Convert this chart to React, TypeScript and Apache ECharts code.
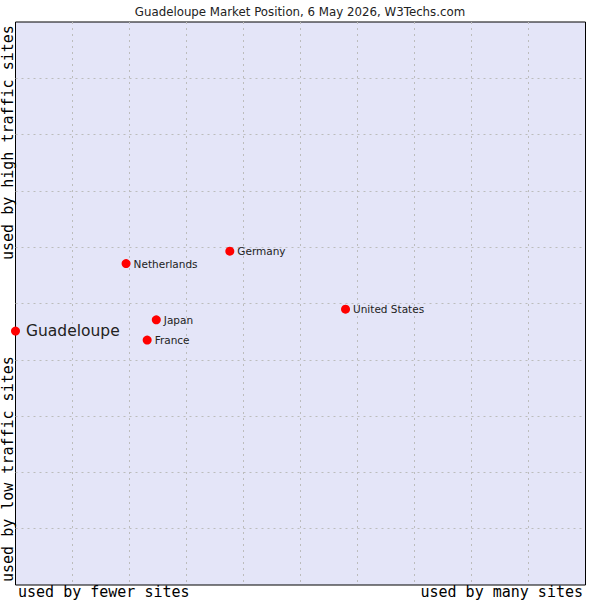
import React, { useRef, useEffect } from "react";
import * as echarts from "echarts";

const names = ["Guadeloupe", "Netherlands", "Germany", "United States", "Japan", "France"];
const xValues = [0, 1.94, 3.76, 5.79, 2.47, 2.31];
const yValues = [4.51, 5.71, 5.93, 4.9, 4.71, 4.35];
const titleText = "Guadeloupe Market Position, 6 May 2026, W3Techs.com";
const xLabels = ["used by fewer sites", "used by many sites"];
const yLabels = ["used by low traffic sites", "used by high traffic sites"];

const mono = "DejaVu Sans Mono";
const sans = "DejaVu Sans";

const App = function () {
  const chart = useRef<HTMLDivElement>(null);
  useEffect(() => {
    if (!chart.current) return;
    const myChart = echarts.init(chart.current, undefined, { renderer: "svg" });
    const data = names.map((n, i) => ({
      name: n,
      value: [xValues[i], yValues[i]],
      label:
        i === 0
          ? { fontSize: 15.5, distance: 6, color: "#222" }
          : undefined,
    }));
    // dashed grid lines, but not over the solid frame
    const gridLine = {
      show: true,
      showMinLine: false,
      showMaxLine: false,
      lineStyle: { color: "#bcbcbc", type: [2, 4], width: 1 },
    };
    const option = {
      animation: false,
      title: {
        text: titleText,
        left: "center",
        top: 1,
        textStyle: {
          fontFamily: sans,
          fontSize: 11.8,
          fontWeight: "normal",
          color: "#222",
        },
      },
      grid: {
        left: 15.5,
        right: 14.5,
        top: 22,
        bottom: 15,
        show: true,
        backgroundColor: "#e4e5f8",
        borderColor: "#000",
        borderWidth: 1,
      },
      xAxis: {
        type: "value",
        min: 0,
        max: 10,
        interval: 1,
        axisLine: { show: false },
        axisTick: { show: false },
        axisLabel: { show: false },
        splitLine: gridLine,
      },
      yAxis: {
        type: "value",
        min: 0,
        max: 10,
        interval: 1,
        axisLine: { show: false },
        axisTick: { show: false },
        axisLabel: { show: false },
        splitLine: gridLine,
      },
      graphic: [
        {
          type: "text",
          left: 18,
          top: 584,
          style: { text: xLabels[0], font: `15px "${mono}"`, fill: "#000" },
        },
        {
          type: "text",
          right: 17,
          top: 584,
          style: { text: xLabels[1], font: `15px "${mono}"`, fill: "#000" },
        },
        {
          type: "text",
          x: 0,
          y: 582,
          rotation: Math.PI / 2,
          style: {
            text: yLabels[0],
            font: `15px "${mono}"`,
            fill: "#000",
            align: "left",
            verticalAlign: "top",
          },
        },
        {
          type: "text",
          x: 0,
          y: 260,
          rotation: Math.PI / 2,
          style: {
            text: yLabels[1],
            font: `15px "${mono}"`,
            fill: "#000",
            align: "left",
            verticalAlign: "top",
          },
        },
      ],
      series: [
        {
          type: "scatter",
          symbol: "circle",
          symbolSize: 9,
          itemStyle: { color: "#ff0000", opacity: 1 },
          label: {
            show: true,
            position: "right",
            distance: 3,
            formatter: "{b}",
            fontFamily: sans,
            fontSize: 10.5,
            color: "#222",
          },
          data: data,
        },
      ],
    };
    myChart.setOption(option as any);
    return () => {
      myChart.dispose();
    };
  }, []);
  return (
    <div
      ref={chart}
      style={{ position: "absolute", left: 0, top: 0, width: 600, height: 600 }}
    ></div>
  );
};
export default App;
